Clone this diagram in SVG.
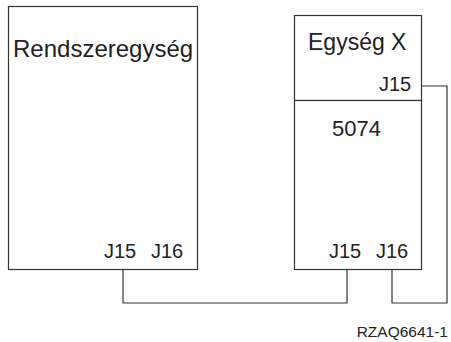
<svg xmlns="http://www.w3.org/2000/svg" width="451" height="342" viewBox="0 0 451 342">
<style>
.box{fill:#fff;stroke:#333;stroke-width:1.2}
.wire{fill:none;stroke:#333;stroke-width:1.2}
text{font-family:"Liberation Sans",Arial,sans-serif;fill:#222}
.big{font-size:24px}
.mid{font-size:23px}
.num{font-size:22px}
.lbl{font-size:20px}
.fig{font-size:15.5px}
</style>
<rect width="451" height="342" fill="#fff"/>
<g id="connectors">
<polyline class="wire" points="123,269 123,303 347,303 347,269"/>
<polyline class="wire" points="392,269 392,303 447,303 447,86 421,86"/>
</g>
<g id="rendszeregyseg">
<rect class="box" x="8.5" y="6.5" width="189" height="263"/>
<text class="big" x="13" y="57">Rendszeregység</text>
<text class="lbl" x="104" y="258">J15</text>
<text class="lbl" x="151" y="258">J16</text>
</g>
<g id="egyseg-x">
<rect class="box" x="294.5" y="15.5" width="127" height="85"/>
<text class="mid" x="308" y="50">Egység X</text>
<text class="lbl" x="379" y="91">J15</text>
</g>
<g id="unit-5074">
<rect class="box" x="294.5" y="100.5" width="127" height="169"/>
<text class="num" x="332" y="136">5074</text>
<text class="lbl" x="329" y="258">J15</text>
<text class="lbl" x="376" y="258">J16</text>
</g>
<text class="fig" x="448" y="337" text-anchor="end">RZAQ6641-1</text>
</svg>
